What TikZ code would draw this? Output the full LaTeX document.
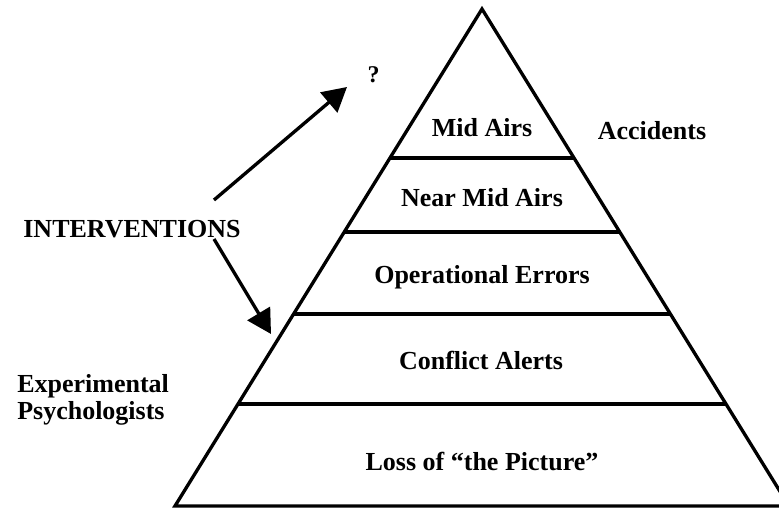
\documentclass[tikz,border=0pt]{standalone}
\usepackage{fontspec}
\setmainfont{Liberation Serif}
\usetikzlibrary{calc,arrows.meta}

\begin{document}
\begin{tikzpicture}[x=0.75pt,y=-0.75pt,
  edge/.style={line width=2.5pt},
  tier/.style={line width=2.6pt},
  lbl/.style={anchor=base,inner sep=0pt,font=\fontsize{19.5}{22}\selectfont\bfseries},
  arrowline/.style={line width=2.5pt,-{Triangle[length=18pt,width=19.5pt]}}]
  \useasboundingbox (0,0) rectangle (779,508);

  % pyramid outline
  \coordinate (A) at (482,9);
  \coordinate (L) at (175,506);
  \coordinate (R) at (789,506);
  \draw[edge,line join=miter] (L) -- (A) -- (R) -- cycle;

  % tier separators
  \foreach \t in {0.2998,0.4487,0.6137,0.7948} {
    \draw[tier] ($(A)!\t!(L)$) -- ($(A)!\t!(R)$);
  }

  % tier labels
  \node[lbl] (mid)  at (482,136) {Mid Airs};
  \node[lbl] (near) at (482,206) {Near Mid Airs};
  \node[lbl] (oper) at (482,283) {Operational Errors};
  \node[lbl] (conf) at (481,369) {Conflict Alerts};
  \node[lbl] (loss) at (482,470) {Loss of “the Picture”};

  % side labels
  \node[lbl] (acc) at (652,139) {Accidents};
  \node[lbl] (intv) at (132,237) {INTERVENTIONS};
  \node[lbl,anchor=base west] (exp1) at (17,392) {Experimental};
  \node[lbl,anchor=base west] (exp2) at (17,419) {Psychologists};
  \node[lbl,font=\fontsize{18}{20}\selectfont\bfseries] (q) at (373.5,82) {?};

  % intervention arrows
  \coordinate (upT) at (214,200);
  \coordinate (upH) at (347,87);
  \coordinate (dnT) at (214,239);
  \coordinate (dnH) at (271,334);
  \draw[arrowline] (upT) -- (upH);
  \draw[arrowline] (dnT) -- (dnH);
\end{tikzpicture}
\end{document}
